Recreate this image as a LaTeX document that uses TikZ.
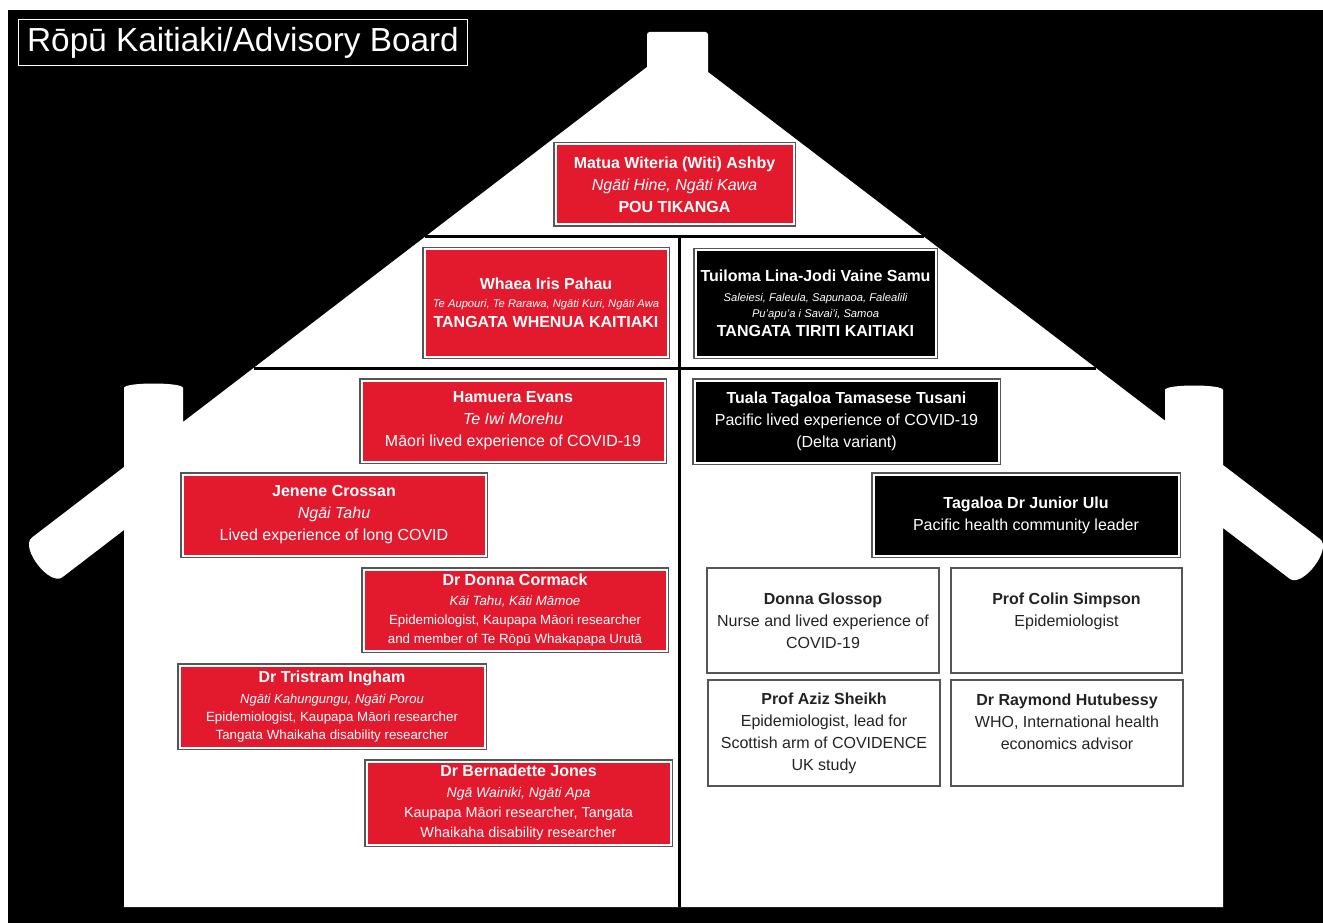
\documentclass[tikz,border=0pt]{standalone}
\usepackage{fontspec}
\setmainfont{Liberation Sans}
\usepackage{xcolor}
\definecolor{kaitiakired}{RGB}{227,25,45}
\definecolor{framegray}{RGB}{85,85,85}
\definecolor{inkgray}{RGB}{35,35,35}
\newcommand{\smalltext}[1]{\fontsize{#1}{14}\selectfont}

\begin{document}
\begin{tikzpicture}[x=0.75pt,y=-0.75pt]
\tikzset{every node/.style={align=center, inner sep=0pt}}
\tikzset{cardsize/.style 2 args={minimum width={#1*0.75pt}, minimum height={#2*0.75pt}}}
\tikzset{card/.style={rectangle, draw=white, line width=1.5pt, preaction={draw=framegray, line width=3.75pt}, text=white, font=\fontsize{12}{16.5}\selectfont}}
\tikzset{redcard/.style={card, fill=kaitiakired}}
\tikzset{blackcard/.style={card, fill=black}}
\tikzset{whitecard/.style={rectangle, draw=framegray, line width=1.5pt, fill=white, text=inkgray, font=\fontsize{12}{16.5}\selectfont}}
\tikzset{houseline/.style={line width=2.25pt, black}}
\useasboundingbox (0,0) rectangle (1323,923);
\fill[white] (0,0) rectangle (1323,923);
\fill[black] (8,10) rectangle (1323,923);
% the house
\fill[white] (32,537.5) -- (124,467) -- (124,388) .. controls (124,382) and (183,382) .. (183,388)
  -- (183,422) -- (647,67) [rounded corners=2] -- (647,32) -- (708,32) [sharp corners] -- (708,72)
  -- (1165,420.7) -- (1165,390) .. controls (1165,384) and (1223,384) .. (1223,390)
  -- (1223,465) -- (1320,539) .. controls +(12.7,9.7) and +(12.7,9.7) .. (1289.6,578.7)
  -- (1223,528) -- (1223,907) -- (124,907) -- (124,530) -- (62.4,577.2)
  .. controls +(-12.7,9.7) and +(-12.7,9.7) .. (32,537.5) -- cycle;
\draw[houseline] (424.8,237) -- (924.3,237);
\draw[houseline] (253.5,368) -- (1095.9,368);
\draw[houseline] (679,237) -- (679,907);
\node[draw=white, line width=1.2pt, text=white, font=\fontsize{25}{30}\selectfont, cardsize={449}{46}] (title) at (243,42.5) {Rōpū Kaitiaki/Advisory Board};
% top of the roof
\node[redcard, cardsize={238}{80}] (ashby) at (674.5,184.5) {\textbf{Matua Witeria (Witi) Ashby}\\ \textit{Ngāti Hine, Ngāti Kawa}\\ \textbf{POU TIKANGA}};
\node[redcard, cardsize={243}{107}] (pahau) at (546,303) {\textbf{Whaea Iris Pahau}\\[-3pt] {\smalltext{8.4}\itshape Te Aupouri, Te Rarawa, Ngāti Kuri, Ngāti Awa}\\[-1.5pt] \textbf{TANGATA WHENUA KAITIAKI}};
\node[blackcard, cardsize={240}{106}] (samu) at (815.5,303.5) {\textbf{Tuiloma Lina-Jodi Vaine Samu}\\[-1.5pt] {\smalltext{8.4}\itshape Saleiesi, Faleula, Sapunaoa, Falealili}\\[-4.5pt] {\smalltext{8.4}\itshape Pu'apu'a i Savai'i, Samoa}\\[-2.25pt] \textbf{TANGATA TIRITI KAITIAKI}};
% left wall
\node[redcard, cardsize={303}{81}] (evans) at (513,421) {\textbf{Hamuera Evans}\\ \textit{Te Iwi Morehu}\\ Māori lived experience of COVID-19};
\node[redcard, cardsize={303}{81}] (crossan) at (334,515) {\textbf{Jenene Crossan}\\ \textit{Ngāi Tahu}\\ Lived experience of long COVID};
\node[redcard, cardsize={303}{81}] (cormack) at (515,610) {\textbf{Dr Donna Cormack}\\[-1.5pt] {\smalltext{10}\itshape Kāi Tahu, Kāti Māmoe}\\[-2.25pt] {\smalltext{10}Epidemiologist, Kaupapa Māori researcher}\\[-2.25pt] {\smalltext{10}and member of Te Rōpū Whakapapa Urutā}};
\node[redcard, cardsize={305}{82}] (ingham) at (332,706.5) {\textbf{Dr Tristram Ingham}\\[-0.75pt] {\smalltext{9.75}\itshape Ngāti Kahungungu, Ngāti Porou}\\[-3pt] {\smalltext{10}Epidemiologist, Kaupapa Māori researcher}\\[-3pt] {\smalltext{10}Tangata Whaikaha disability researcher}};
\node[redcard, cardsize={304}{83}] (jones) at (518.5,803) {\textbf{Dr Bernadette Jones}\\[-0.75pt] {\smalltext{10.5}\itshape Ngā Wainiki, Ngāti Apa}\\[-1.5pt] {\smalltext{10.8}Kaupapa Māori researcher, Tangata}\\[-1.5pt] {\smalltext{10.8}Whaikaha disability researcher}};
% right wall
\node[blackcard, cardsize={304}{82}] (tusani) at (846.5,421.5) {\textbf{Tuala Tagaloa Tamasese Tusani}\\ Pacific lived experience of COVID-19\\ (Delta variant)};
\node[blackcard, cardsize={305}{81}] (ulu) at (1026,515) {\textbf{Tagaloa Dr Junior Ulu}\\ Pacific health community leader};
\node[whitecard, cardsize={232}{105}] (glossop) at (823,620.5) {\textbf{Donna Glossop}\\ Nurse and lived experience of\\ COVID-19};
\node[whitecard, cardsize={231}{105}] (simpson) at (1066.5,620.5) {\textbf{Prof Colin Simpson}\\ Epidemiologist\\[-4.5pt] \strut};
\node[whitecard, cardsize={232}{106}] (sheikh) at (824,733) {\textbf{Prof Aziz Sheikh}\\ Epidemiologist, lead for\\ Scottish arm of COVIDENCE\\ UK study};
\node[whitecard, cardsize={232}{106}] (hutubessy) at (1067,733) {\textbf{Dr Raymond Hutubessy}\\ WHO, International health\\ economics advisor\\[-4.5pt] \strut};
\end{tikzpicture}
\end{document}
